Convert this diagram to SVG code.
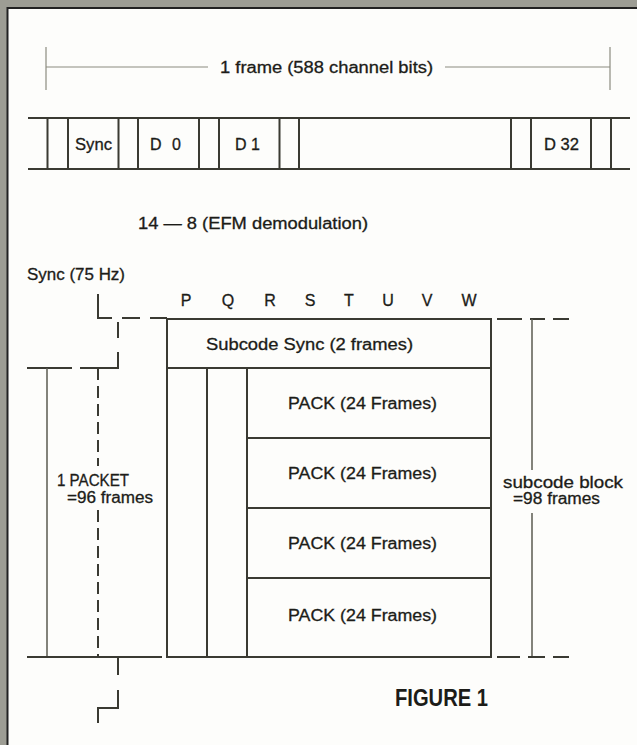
<svg xmlns="http://www.w3.org/2000/svg" width="637" height="745" viewBox="0 0 637 745">
<style>
.t{font-family:"Liberation Sans",Arial,sans-serif;font-size:16px;fill:#1c1c18;stroke:#1c1c18;stroke-width:0.3}
.b{font-family:"Liberation Sans",Arial,sans-serif;font-size:23px;font-weight:bold;fill:#1c1c18}
.ln{stroke:#3a3a32;stroke-width:2;fill:none}
.th{stroke:#5a5a50;stroke-width:1.5;fill:none}
.dm{stroke:#8c8c80;stroke-width:1.2;fill:none}
.ds{stroke:#3a3a32;stroke-width:2;fill:none;stroke-dasharray:12 6}
</style>
<rect width="637" height="745" fill="#fdfdfb"/>
<g id="border">
<rect x="0" y="0" width="7" height="745" fill="#9d9d94"/>
<rect x="0" y="0" width="637" height="7" fill="#9d9d94"/>
<line x1="7.5" y1="7" x2="7.5" y2="745" stroke="#222" stroke-width="2"/>
<line x1="7" y1="8" x2="637" y2="8" stroke="#222" stroke-width="2"/>
</g>
<g id="frame-dimension">
<line class="dm" x1="46" y1="47" x2="46" y2="90"/>
<line class="dm" x1="610" y1="47" x2="610" y2="90"/>
<line class="dm" x1="46" y1="67" x2="208" y2="67"/>
<line class="dm" x1="445" y1="67" x2="610" y2="67"/>
<text class="t" x="220" y="73" textLength="213" lengthAdjust="spacingAndGlyphs">1 frame  (588 channel bits)</text>
</g>
<g id="frame-row">
<line class="ln" x1="28" y1="118" x2="630" y2="118"/>
<line class="ln" x1="28" y1="169" x2="630" y2="169"/>
<path class="ln" d="M47.5 118V169M68 118V169M118.5 118V169M138 118V169M199 118V169M219 118V169M279.5 118V169M299 118V169M511 118V169M531 118V169M591 118V169M611 118V169"/>
<text class="t" x="75" y="150" textLength="37" lengthAdjust="spacingAndGlyphs">Sync</text>
<text class="t" x="150" y="150" textLength="31" lengthAdjust="spacing">D 0</text>
<text class="t" x="235" y="150" textLength="25" lengthAdjust="spacing">D 1</text>
<text class="t" x="544" y="150" textLength="35" lengthAdjust="spacingAndGlyphs">D 32</text>
</g>
<g id="efm-label">
<text class="t" x="138" y="229" textLength="230" lengthAdjust="spacingAndGlyphs">14 — 8  (EFM  demodulation)</text>
</g>
<g id="sync-label">
<text class="t" x="27" y="280" textLength="98" lengthAdjust="spacingAndGlyphs">Sync (75 Hz)</text>
</g>
<g id="channel-letters">
<text class="t" x="186" y="306" text-anchor="middle">P</text>
<text class="t" x="228" y="306" text-anchor="middle">Q</text>
<text class="t" x="270" y="306" text-anchor="middle">R</text>
<text class="t" x="310" y="306" text-anchor="middle">S</text>
<text class="t" x="349" y="306" text-anchor="middle">T</text>
<text class="t" x="388" y="306" text-anchor="middle">U</text>
<text class="t" x="427" y="306" text-anchor="middle">V</text>
<text class="t" x="469" y="306" text-anchor="middle">W</text>
</g>
<g id="subcode-block">
<rect class="ln" x="167" y="319" width="324" height="338"/>
<line class="ln" x1="167" y1="368" x2="491" y2="368"/>
<line class="ln" x1="207" y1="368" x2="207" y2="657"/>
<line class="ln" x1="247" y1="368" x2="247" y2="657"/>
<line class="ln" x1="247" y1="438" x2="491" y2="438"/>
<line class="ln" x1="247" y1="508" x2="491" y2="508"/>
<line class="ln" x1="247" y1="578" x2="491" y2="578"/>
</g>
<g id="subcode-sync">
<text class="t" x="206" y="350" textLength="207" lengthAdjust="spacingAndGlyphs">Subcode Sync  (2 frames)</text>
</g>
<g id="pack-1"><text class="t" x="288" y="409" textLength="149" lengthAdjust="spacingAndGlyphs">PACK  (24 Frames)</text></g>
<g id="pack-2"><text class="t" x="288" y="479" textLength="149" lengthAdjust="spacingAndGlyphs">PACK  (24 Frames)</text></g>
<g id="pack-3"><text class="t" x="288" y="549" textLength="149" lengthAdjust="spacingAndGlyphs">PACK  (24 Frames)</text></g>
<g id="pack-4"><text class="t" x="288" y="621" textLength="149" lengthAdjust="spacingAndGlyphs">PACK  (24 Frames)</text></g>
<g id="packet-label">
<text class="t" x="57" y="486" textLength="72" lengthAdjust="spacingAndGlyphs">1 PACKET</text>
<text class="t" x="67" y="503" textLength="86" lengthAdjust="spacingAndGlyphs">=96 frames</text>
</g>
<g id="block-label">
<text class="t" x="503" y="488" textLength="120" lengthAdjust="spacingAndGlyphs">subcode block</text>
<text class="t" x="513" y="504" textLength="87" lengthAdjust="spacingAndGlyphs">=98 frames</text>
</g>
<g id="connectors">
<path class="ln" d="M98 294V318H112"/>
<path class="ln" d="M122 318H140M150 318H167"/>
<path class="ln" d="M118 322V338M118 352V368H80M27 368H72"/>
<path class="ln" d="M497 319H522M530 319H545M553 319H569"/>
<line class="th" x1="47" y1="368" x2="47" y2="657"/>
<line class="ds" x1="98" y1="368" x2="98" y2="466"/>
<line class="ds" x1="98" y1="510" x2="98" y2="657"/>
<line class="th" x1="532" y1="319" x2="532" y2="470"/>
<line class="th" x1="532" y1="513" x2="532" y2="657"/>
<path class="ln" d="M27 657H162"/>
<path class="ln" d="M497 657H520M528 657H545M553 657H569"/>
<path class="ln" d="M118 658V675M118 690V708H98V723"/>
</g>
<g id="figure-label">
<text class="b" x="395" y="706" textLength="93" lengthAdjust="spacingAndGlyphs">FIGURE 1</text>
</g>
</svg>
